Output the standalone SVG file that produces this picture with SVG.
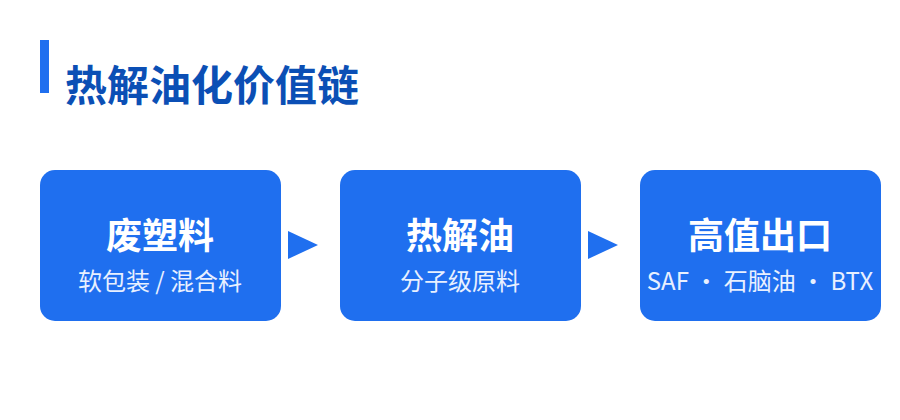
<svg xmlns="http://www.w3.org/2000/svg" width="900" height="420" viewBox="0 0 900 420">
<style>
.box{fill:#1f6fef}
.arrow{fill:#1f6fef}
.t{font-family:"Noto Sans CJK SC","Noto Sans",sans-serif;font-weight:700;font-size:36px;fill:#ffffff;text-anchor:middle}
.s{font-family:"Noto Sans CJK SC","Noto Sans",sans-serif;font-weight:400;font-size:24px;fill:#e8f0ff;text-anchor:middle}
.title{font-family:"Noto Sans CJK SC","Noto Sans",sans-serif;font-weight:700;font-size:42px;fill:#0b4fb5}
</style>
<rect x="0" y="0" width="900" height="420" fill="#ffffff"/>
<g id="heading">
<rect x="40" y="40" width="9" height="53" fill="#1f6fef"/>
<text class="title" x="65" y="101">热解油化价值链</text>
</g>
<g id="connectors">
<polygon class="arrow" points="288,231 318,245 288,259"/>
<polygon class="arrow" points="588,231 618,245 588,259"/>
</g>
<g id="node-waste">
<rect class="box" x="40" y="170" width="241" height="151" rx="15"/>
<text class="t" x="160" y="249">废塑料</text>
<text class="s" x="160" y="290">软包装 / 混合料</text>
</g>
<g id="node-oil">
<rect class="box" x="340" y="170" width="241" height="151" rx="15"/>
<text class="t" x="460" y="249">热解油</text>
<text class="s" x="460" y="290">分子级原料</text>
</g>
<g id="node-export">
<rect class="box" x="640" y="170" width="241" height="151" rx="15"/>
<text class="t" x="760" y="249">高值出口</text>
<text class="s" x="760" y="290">SAF · 石脑油 · BTX</text>
</g>
</svg>
